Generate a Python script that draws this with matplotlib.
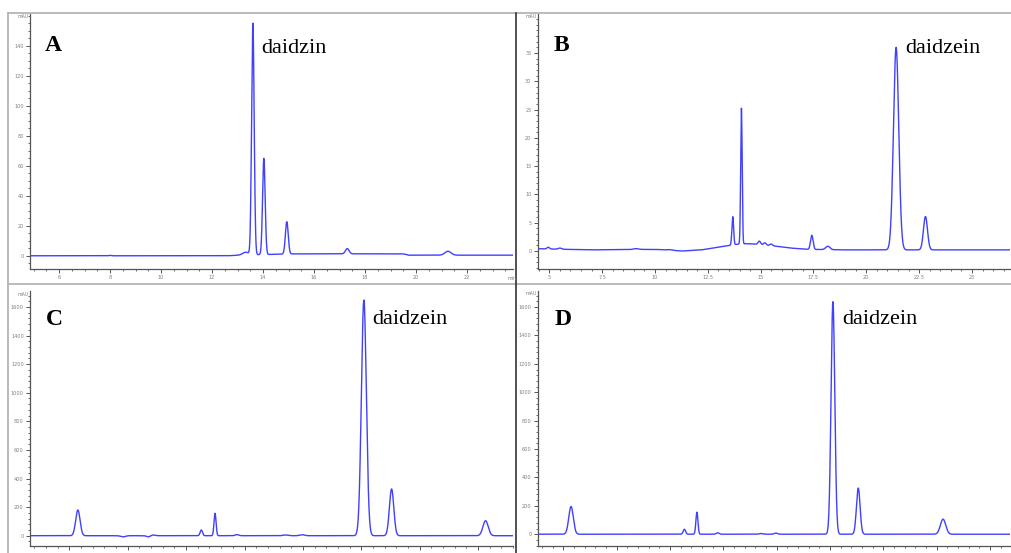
import numpy as np
import matplotlib
matplotlib.use("Agg")
import matplotlib.pyplot as plt
from matplotlib.lines import Line2D
from matplotlib.ticker import MultipleLocator, FixedLocator, FixedFormatter, NullFormatter

W, H = 1011, 553

# ---------------- data ----------------
# Panel A : peaks (retention time [min], height [mAU], width sigma [min])
a_rt = [13.32, 13.60, 14.03, 14.93, 17.30, 21.25]
a_height = [1.8, 154.0, 64.0, 21.5, 3.5, 2.6]
a_sigma = [0.12, 0.05, 0.05, 0.055, 0.07, 0.12]
a_base_t = [4.86, 7.9, 8.0, 8.1, 12.6, 13.2, 15.3, 19.5, 19.7, 23.8]
a_base_y = [0.1, 0.1, 0.4, 0.1, 0.1, 0.6, 1.4, 1.4, 0.5, 0.5]

# Panel B
b_rt = [4.95, 5.5, 9.1, 10.7, 13.68, 14.09, 14.94, 15.2, 15.5, 17.42, 18.18, 21.41, 22.80]
b_height = [0.3, 0.2, 0.15, 0.1, 5.0, 24.0, 0.6, 0.4, 0.3, 2.5, 0.6, 35.8, 5.9]
b_sigma = [0.06, 0.08, 0.12, 0.12, 0.04, 0.035, 0.06, 0.06, 0.06, 0.06, 0.1, 0.125, 0.095]
b_base_t = [4.45, 7.0, 10.0, 11.3, 12.2, 13.4, 13.9, 14.3, 14.8, 15.6, 16.5, 17.2, 19.0, 26.8]
b_base_y = [0.4, 0.2, 0.3, 0.0, 0.2, 0.9, 1.2, 1.3, 1.2, 0.9, 0.5, 0.3, 0.2, 0.2]

# Panel C
c_rt = [2.29, 3.84, 4.70, 4.87, 6.52, 6.99, 7.74, 9.40, 9.97, 12.09, 13.04, 16.26]
c_height = [180, -8, -8, 5, 40, 157, 8, 5, 7, 1649, 327, 105]
c_sigma = [0.075, 0.08, 0.06, 0.06, 0.04, 0.035, 0.06, 0.08, 0.08, 0.085, 0.075, 0.09]

# Panel D
d_rt = [2.29, 6.54, 7.01, 7.79, 9.41, 9.97, 12.11, 13.06, 16.24]
d_height = [195, 35, 155, 10, 5, 8, 1638, 325, 106]
d_sigma = [0.085, 0.045, 0.038, 0.05, 0.06, 0.06, 0.07, 0.068, 0.10]

a_yticks = [0, 20, 40, 60, 80, 100, 120, 140]
b_yticks = [0, 5, 10, 15, 20, 25, 30, 35]
cd_yticks = [0, 200, 400, 600, 800, 1000, 1200, 1400, 1600]
a_xticks = [6, 8, 10, 12, 14, 16, 18, 20, 22]
b_xticks = [5, 7.5, 10, 12.5, 15, 17.5, 20, 22.5, 25]

panel_letters = ["A", "B", "C", "D"]
peak_names = ["daidzin", "daidzein", "daidzein", "daidzein"]

# ---------------- figure ----------------
fig = plt.figure(figsize=(W / 100, H / 100), dpi=100)
fig.patch.set_facecolor("white")

LINE = "#4040ff"
AXC = "#555555"
TICKC = "#808080"


def rect(l, t, r, b):
    return [l / W, 1 - b / H, (r - l) / W, (b - t) / H]


def trace(t, rts, hs, sig, bt=None, by=None):
    y = np.zeros_like(t)
    if bt is not None:
        y += np.interp(t, bt, by)
    for r, h, s in zip(rts, hs, sig):
        y += h * np.exp(-0.5 * ((t - r) / s) ** 2)
    return y


def style(ax, xlim, ylim, xmaj, xmin, ymaj, ymin, xlabels=True):
    ax.set_xlim(*xlim)
    ax.set_ylim(*ylim)
    for s in ["top", "right"]:
        ax.spines[s].set_visible(False)
    for s in ["left", "bottom"]:
        ax.spines[s].set_color(AXC)
        ax.spines[s].set_linewidth(0.9)
    ax.xaxis.set_major_locator(FixedLocator(xmaj))
    ax.xaxis.set_minor_locator(MultipleLocator(xmin))
    ax.yaxis.set_major_locator(FixedLocator(ymaj))
    ax.yaxis.set_minor_locator(MultipleLocator(ymin))
    ax.tick_params(axis="both", which="major", length=3, width=0.7,
                   color=AXC, labelsize=3.6, labelcolor=TICKC, pad=1.5)
    ax.tick_params(axis="both", which="minor", length=1.5, width=0.6, color=AXC)
    ax.yaxis.set_major_formatter(FixedFormatter([f"{v:g}" for v in ymaj]))
    if xlabels:
        ax.xaxis.set_major_formatter(FixedFormatter([f"{v:g}" for v in xmaj]))
    else:
        ax.xaxis.set_major_formatter(NullFormatter())
    ax.set_facecolor("none")


# Panel A
axA = fig.add_axes(rect(30, 14, 513, 269))
t = np.linspace(4.86, 23.8, 8000)
axA.plot(t, trace(t, a_rt, a_height, a_sigma, a_base_t, a_base_y), color=LINE, lw=1.0)
style(axA, (4.86, 23.8), (-8.7, 161), a_xticks, 0.5, a_yticks, 5)

# Panel B
axB = fig.add_axes(rect(537.7, 14, 1010, 269))
t = np.linspace(4.45, 26.8, 8000)
axB.plot(t, trace(t, b_rt, b_height, b_sigma, b_base_t, b_base_y), color=LINE, lw=1.0)
style(axB, (4.45, 26.8), (-3.18, 41.9), b_xticks, 0.5, b_yticks, 1)

# Panel C
axC = fig.add_axes(rect(30, 291, 513, 546))
t = np.linspace(0.65, 17.2, 8000)
axC.plot(t, trace(t, c_rt, c_height, c_sigma), color=LINE, lw=1.0)
style(axC, (0.65, 17.2), (-72, 1712), [2, 4, 6, 8, 10, 12, 14, 16], 0.4,
      cd_yticks, 40, xlabels=False)

# Panel D
axD = fig.add_axes(rect(537.7, 291, 1010, 546))
t = np.linspace(1.04, 18.75, 8000)
axD.plot(t, trace(t, d_rt, d_height, d_sigma), color=LINE, lw=1.0)
style(axD, (1.04, 18.75), (-83, 1713), [2, 4, 6, 8, 10, 12, 14, 16, 18], 0.4,
      cd_yticks, 40, xlabels=False)


def ftext(x, y, s, **kw):
    fig.text(x / W, 1 - y / H, s, **kw)


# unit labels
for x, y in [(29, 16), (536.5, 16), (29, 295), (536.5, 294)]:
    ftext(x, y, "mAU", ha="right", va="center", fontsize=3.4, color=TICKC)
ftext(512, 278, "min", ha="center", va="center", fontsize=3.4, color=TICKC)

# panel letters
serif = ["Liberation Serif", "DejaVu Serif"]
for (x, y), s in zip([(45, 51), (554, 51), (45.7, 325), (554.3, 325)], panel_letters):
    ftext(x, y, s, ha="left", va="baseline", fontsize=17, fontweight="bold",
          family=serif, color="black")

# peak names
for (x, y), s in zip([(261, 53), (905.7, 53), (372.3, 324.5), (842.7, 324.5)], peak_names):
    ftext(x, y, s, ha="left", va="baseline", fontsize=16, family=serif, color="black")

# panel frames


def fline(x0, y0, x1, y1, color, lw):
    fig.add_artist(Line2D([x0 / W, x1 / W], [1 - y0 / H, 1 - y1 / H],
                          color=color, lw=lw, transform=fig.transFigure))


GRAY = "#b5b5b5"
fline(8, 13, 1011, 13, GRAY, 1.3)
fline(8, 13, 8, 553, GRAY, 1.3)
fline(8, 284, 1011, 284, GRAY, 1.3)
fline(515.5, 13, 515.5, 553, "#333333", 1.2)

fig.savefig("out.png", dpi=100, facecolor="white")
